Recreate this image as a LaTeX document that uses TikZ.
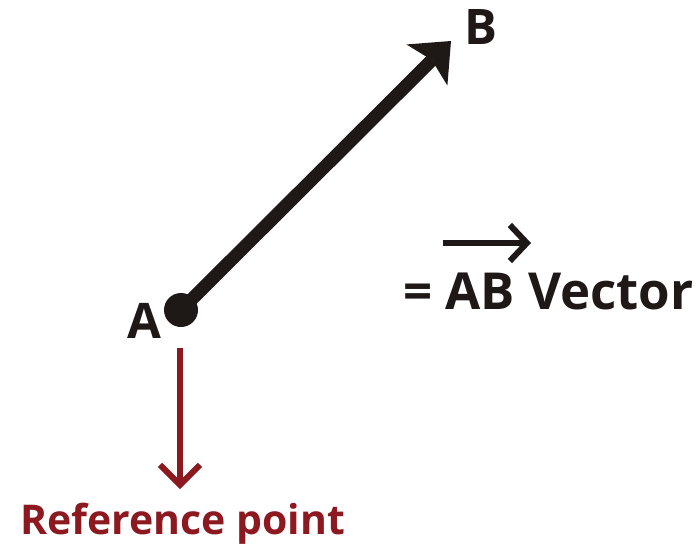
\documentclass[tikz,border=0pt]{standalone}
\usepackage{fontspec}
\setmainfont{Open Sans}
\usetikzlibrary{arrows.meta}
\definecolor{refred}{RGB}{140,24,32}
\definecolor{ink}{RGB}{30,25,22}
\tikzset{
  lbl/.style={inner sep=0pt, outer sep=0pt, anchor=base west, text=ink, font=\bfseries\fontsize{49}{56}\selectfont},
  eqlbl/.style={inner sep=0pt, outer sep=0pt, anchor=base west, text=ink, font=\bfseries\fontsize{51}{58}\selectfont},
  reflbl/.style={inner sep=0pt, outer sep=0pt, anchor=base west, text=refred, font=\bfseries\fontsize{41}{50}\selectfont},
  vec/.style={draw=ink, line width=13pt, -{Stealth[length=34pt, width=58pt, inset=7pt, line width=0pt]}},
  refarrow/.style={draw=refred, line width=6pt, -{Straight Barb[length=20pt, width=40pt, line width=6pt]}, miter limit=10},
  overarrow/.style={draw=ink, line width=6pt, -{Straight Barb[length=17pt, width=36pt, line width=6pt]}, miter limit=10}
}
\begin{document}
\begin{tikzpicture}[x=1pt,y=-1pt]
\useasboundingbox (0,0) rectangle (696,544);
\fill[white] (0,0) rectangle (696,544);
\coordinate (A) at (181,310);
\coordinate (Btip) at (451,41);
\fill[ink] (A) circle (17);
\draw[vec] (A) -- (Btip);
\node[lbl] (la) at (127,338) {A};
\node[lbl] (lb) at (464,44) {B};
\coordinate (rtop) at (180,348);
\coordinate (rbot) at (180,489);
\draw[refarrow] (rtop) -- (rbot);
\node[reflbl] (ref) at (20,534) {Reference point};
\node[eqlbl] (eq) at (403,309) {= AB Vector};
\coordinate (oa1) at (443,243);
\coordinate (oa2) at (531,243);
\draw[overarrow] (oa1) -- (oa2);
\end{tikzpicture}
\end{document}
